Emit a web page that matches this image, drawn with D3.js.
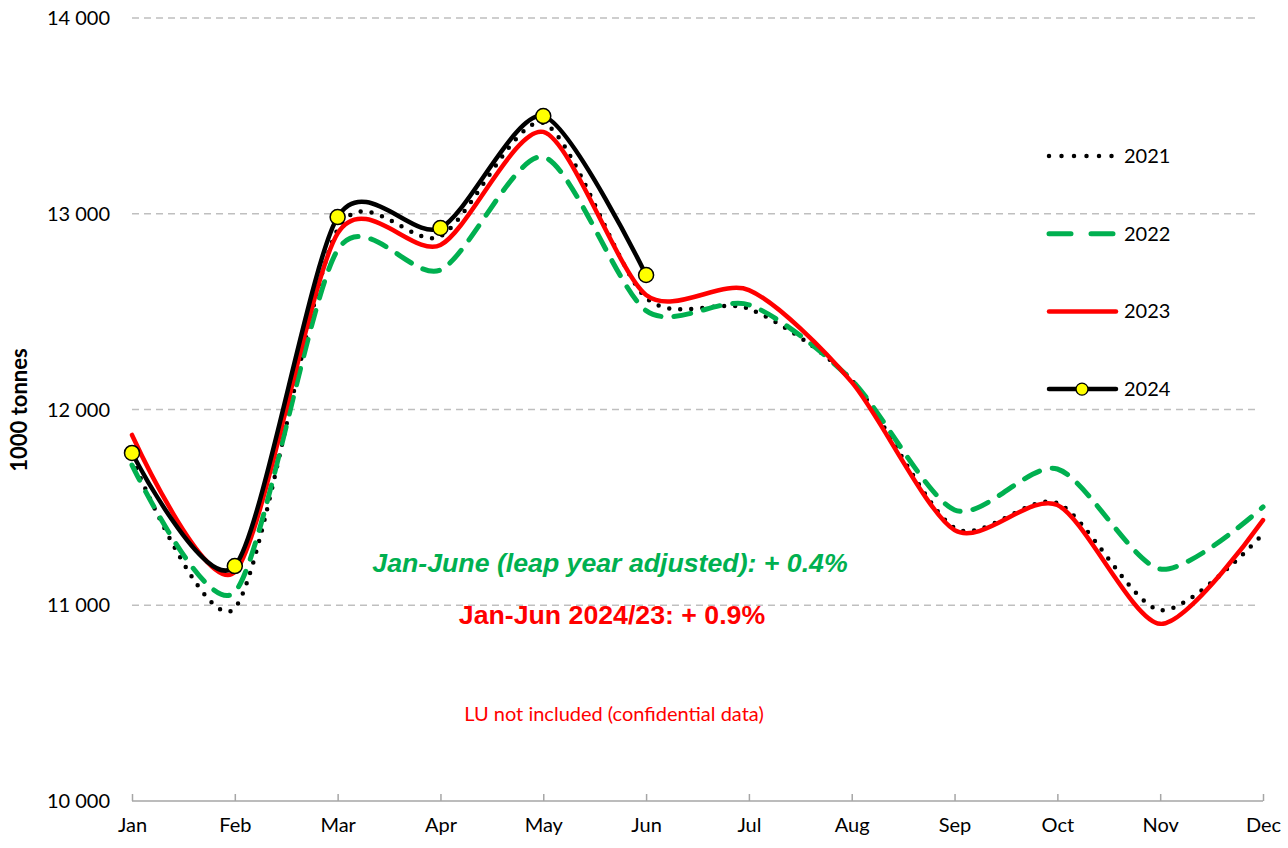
<!DOCTYPE html>
<html>
<head>
    <title>Monthly tonnes 2021-2024</title>
    <script src="https://d3js.org/d3.v7.min.js"></script>
    <style>
        body { margin: 0; background: #fff; }
        svg { font-family: Lato, "Open Sans", sans-serif; }
        .grid line { stroke: #bfbfbf; stroke-width: 1.3; stroke-dasharray: 7,5; }
        .tick text { fill: #000; }
    </style>
</head>
<body>
    <div id="chart"></div>
    <script>
        const months = ["Jan", "Feb", "Mar", "Apr", "May", "Jun", "Jul", "Aug", "Sep", "Oct", "Nov", "Dec"];
        const yTicks = [10000, 11000, 12000, 13000, 14000];

        // 1000 tonnes
        const v2021 = [11750, 10985, 12920, 12885, 13464, 12570, 12515, 12150, 11395, 11522, 10975, 11364];
        const v2022 = [11716, 11068, 12815, 12713, 13290, 12505, 12535, 12150, 11487, 11696, 11185, 11502];
        const v2023 = [11870, 11170, 12900, 12840, 13418, 12585, 12610, 12140, 11384, 11512, 10905, 11435];
        const v2024 = [11778, 11200, 12983, 12927, 13499, 12687];

        const series = [
            { name: "2021", values: v2021, color: "#000", width: 4.5, dash: "0,11", cap: "round" },
            { name: "2022", values: v2022, color: "#00b050", width: 5, dash: "17,13", cap: "round" },
            { name: "2023", values: v2023, color: "#ff0000", width: 4.5, dash: null, cap: "round" },
            { name: "2024", values: v2024, color: "#000", width: 4.5, dash: null, cap: "round", marker: true }
        ];

        const width = 1288, height = 848;
        const plotLeft = 132, plotRight = 1263, plotTop = 18, plotBottom = 801;

        const svg = d3.select("#chart").append("svg")
            .attr("width", width)
            .attr("height", height);

        const x = d3.scalePoint().domain(months).range([plotLeft, plotRight]);
        const y = d3.scaleLinear().domain([10000, 14000]).range([plotBottom, plotTop]);

        // gridlines
        svg.append("g").attr("class", "grid")
            .selectAll("line")
            .data(yTicks.filter(d => d > 10000))
            .enter().append("line")
            .attr("x1", plotLeft).attr("x2", plotRight - 4)
            .attr("y1", d => y(d)).attr("y2", d => y(d));

        // y labels
        svg.append("g")
            .selectAll("text")
            .data(yTicks)
            .enter().append("text")
            .attr("x", 110)
            .attr("y", d => y(d) + 7)
            .attr("text-anchor", "end")
            .attr("font-size", 20)
            .text(d => d3.format(",")(d).replace(",", " "));

        // x axis
        const xAxis = svg.append("g")
            .attr("transform", `translate(0,${plotBottom})`)
            .call(d3.axisBottom(x).tickSize(-7).tickPadding(17));
        xAxis.select(".domain").attr("stroke", "#a6a6a6").attr("stroke-width", 1.5)
            .attr("d", `M${plotLeft},0H${plotRight}`);
        xAxis.selectAll(".tick line").attr("stroke", "#a6a6a6").attr("stroke-width", 1.5);
        xAxis.selectAll(".tick text").attr("font-size", 20).attr("font-family", "Lato, sans-serif");

        // y title
        svg.append("text")
            .attr("transform", "translate(27,410) rotate(-90)")
            .attr("text-anchor", "middle")
            .attr("font-size", 22)
            .attr("font-weight", "bold")
            .text("1000 tonnes");

        const line = d3.line()
            .x((d, i) => x(months[i]))
            .y(d => y(d))
            .curve(d3.curveCardinal.tension(0.2));

        series.forEach(s => {
            svg.append("path")
                .datum(s.values)
                .attr("fill", "none")
                .attr("stroke", s.color)
                .attr("stroke-width", s.width)
                .attr("stroke-linecap", s.cap)
                .attr("stroke-dasharray", s.dash)
                .attr("d", line);
            if (s.marker) {
                svg.append("g").selectAll("circle")
                    .data(s.values)
                    .enter().append("circle")
                    .attr("cx", (d, i) => x(months[i]))
                    .attr("cy", d => y(d))
                    .attr("r", 7.5)
                    .attr("fill", "#ffff00")
                    .attr("stroke", "#000")
                    .attr("stroke-width", 1.5);
            }
        });

        // legend
        const legend = svg.append("g").selectAll("g")
            .data(series)
            .enter().append("g")
            .attr("transform", (d, i) => `translate(1047,${156 + i * 77.7})`);
        legend.append("line")
            .attr("x1", 2).attr("x2", 69)
            .attr("stroke", d => d.color)
            .attr("stroke-width", d => d.width)
            .attr("stroke-linecap", "round")
            .attr("stroke-dasharray", d => d.name === "2021" ? "0,12.5" : d.name === "2022" ? "22,20" : null);
        legend.filter(d => d.marker).append("circle")
            .attr("cx", 35).attr("r", 6)
            .attr("fill", "#ffff00").attr("stroke", "#000").attr("stroke-width", 1.3);
        legend.append("text")
            .attr("x", 77).attr("y", 7)
            .attr("font-size", 20)
            .text(d => d.name);

        // notes
        svg.append("text")
            .attr("x", 610).attr("y", 572)
            .attr("text-anchor", "middle")
            .attr("font-family", "'Liberation Sans', Arial, sans-serif")
            .attr("font-size", 26.7).attr("font-weight", "bold").attr("font-style", "italic")
            .attr("fill", "#00b050")
            .text("Jan-June (leap year adjusted): + 0.4%");
        svg.append("text")
            .attr("x", 612).attr("y", 624)
            .attr("text-anchor", "middle")
            .attr("font-family", "'Liberation Sans', Arial, sans-serif")
            .attr("font-size", 26.7).attr("font-weight", "bold")
            .attr("fill", "#ff0000")
            .text("Jan-Jun 2024/23: + 0.9%");
        svg.append("text")
            .attr("x", 614).attr("y", 721)
            .attr("text-anchor", "middle")
            .attr("font-size", 20)
            .attr("fill", "#ff0000")
            .text("LU not included (confidential data)");
    </script>
</body>
</html>
